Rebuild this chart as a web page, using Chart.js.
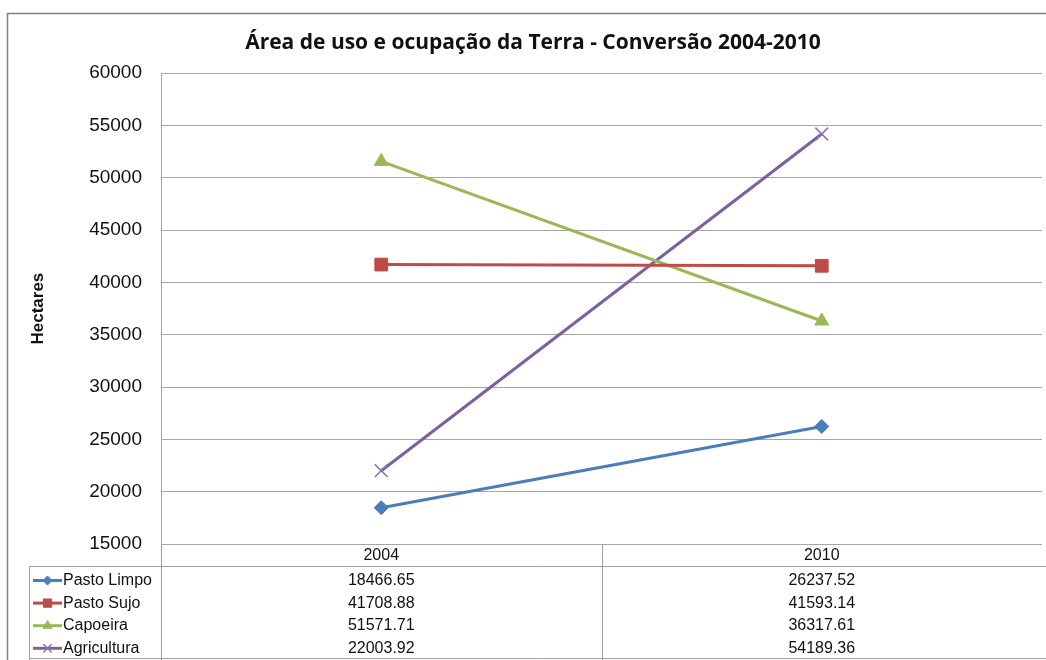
<!DOCTYPE html>
<html>
<head>
<meta charset="utf-8">
<script src="https://cdn.jsdelivr.net/npm/chart.js@4"></script>
<style>
  html, body { margin: 0; padding: 0; background: #fff; overflow: hidden; }
  #wrap { width: 1046px; height: 660px; }
</style>
</head>
<body>
<div id="wrap"><canvas id="chart" width="1046" height="660"></canvas></div>
<script>
const years = ["2004", "2010"];
const seriesNames = ["Pasto Limpo", "Pasto Sujo", "Capoeira", "Agricultura"];
const pastoLimpo = [18466.65, 26237.52];
const pastoSujo = [41708.88, 41593.14];
const capoeira = [51571.71, 36317.61];
const agricultura = [22003.92, 54189.36];
const yTicks = [15000, 20000, 25000, 30000, 35000, 40000, 45000, 50000, 55000, 60000];

const colors = ["#4A7EBB", "#BE4B48", "#98B954", "#7D60A0"];
const markers = ["rectRot", "rect", "triangle", "crossRot"];
const markerSizes = [7, 9, 8, 9];
const allValues = [pastoLimpo, pastoSujo, capoeira, agricultura];

const tableFont = "16px 'Liberation Sans', Arial, sans-serif";

// outer frame + data table under the plot (Excel style)
const tablePlugin = {
    id: "tablePlugin",
    beforeDraw(chart) {
        const ctx = chart.ctx;
        ctx.save();
        ctx.fillStyle = "#fff";
        ctx.fillRect(0, 0, chart.width, chart.height);
        ctx.strokeStyle = "#808080";
        ctx.lineWidth = 1.5;
        ctx.strokeRect(7.5, 13.5, chart.width + 10, chart.height + 10);
        ctx.restore();
    },
    afterDraw(chart) {
        const ctx = chart.ctx;
        const area = chart.chartArea;
        const x = chart.scales.x;
        const legendLeft = 29.5;
        const headTop = area.bottom;
        const headBottom = 566.5;
        const rowH = 22.6;
        const mid = Math.round((x.getPixelForValue(0) + x.getPixelForValue(1)) / 2) + 0.5;
        const left = Math.round(area.left) + 0.5;

        ctx.save();
        ctx.strokeStyle = "#a0a0a0";
        ctx.lineWidth = 1;
        ctx.beginPath();
        ctx.moveTo(left, headTop);
        ctx.lineTo(left, chart.height);
        ctx.moveTo(mid, headTop);
        ctx.lineTo(mid, chart.height);
        ctx.moveTo(legendLeft, headBottom);
        ctx.lineTo(chart.width, headBottom);
        ctx.moveTo(legendLeft, headBottom);
        ctx.lineTo(legendLeft, chart.height);
        ctx.moveTo(legendLeft, 658.5);
        ctx.lineTo(chart.width, 658.5);
        ctx.stroke();

        ctx.fillStyle = "#111";
        ctx.font = tableFont;
        ctx.textAlign = "center";
        ctx.textBaseline = "middle";
        years.forEach((y, i) => {
            ctx.fillText(y, x.getPixelForValue(i), 556);
        });

        seriesNames.forEach((name, r) => {
            const cy = 580.5 + r * rowH;
            // legend key
            ctx.strokeStyle = colors[r];
            ctx.lineWidth = 3;
            ctx.beginPath();
            ctx.moveTo(33, cy);
            ctx.lineTo(62, cy);
            ctx.stroke();
            ctx.fillStyle = colors[r];
            ctx.strokeStyle = markers[r] === "crossRot" ? "#8a74aa" : colors[r];
            ctx.lineWidth = markers[r] === "crossRot" ? 1.5 : 1;
            Chart.helpers.drawPoint(ctx, {
                pointStyle: markers[r],
                radius: markerSizes[r] * 0.65,
                borderWidth: ctx.lineWidth,
                rotation: 0
            }, 47.5, cy);

            ctx.fillStyle = "#111";
            ctx.font = tableFont;
            ctx.textAlign = "left";
            ctx.fillText(name, 63, cy);
            ctx.textAlign = "center";
            allValues[r].forEach((v, i) => {
                ctx.fillText(v.toFixed(2), x.getPixelForValue(i), cy);
            });
        });
        ctx.restore();
    }
};

new Chart(document.getElementById("chart"), {
    type: "line",
    data: {
        labels: years,
        datasets: seriesNames.map((name, i) => ({
            label: name,
            data: allValues[i],
            borderColor: colors[i],
            backgroundColor: colors[i],
            borderWidth: 3,
            pointStyle: markers[i],
            pointRadius: markerSizes[i],
            pointBorderWidth: markers[i] === "crossRot" ? 1.5 : 1,
            pointBorderColor: markers[i] === "crossRot" ? "#8a74aa" : colors[i],
            tension: 0
        }))
    },
    options: {
        responsive: false,
        animation: false,
        layout: { autoPadding: false, padding: { left: 24, right: 4, top: 0, bottom: 116 } },
        plugins: {
            legend: { display: false },
            tooltip: { enabled: false },
            title: {
                display: true,
                text: "Área de uso e ocupação da Terra - Conversão 2004-2010",
                color: "#111",
                font: { family: "'Open Sans', sans-serif", size: 21, weight: "bold" },
                padding: { top: 30, bottom: 18 }
            }
        },
        scales: {
            x: {
                type: "category",
                offset: true,
                display: false
            },
            y: {
                min: 15000,
                max: 60000,
                afterBuildTicks(scale) {
                    scale.ticks = yTicks.map(v => ({ value: v }));
                },
                afterFit(scale) {
                    scale.width = 137;
                },
                grid: { color: "#a6a6a6", drawTicks: false, lineWidth: 1 },
                border: { color: "#a6a6a6" },
                ticks: {
                    color: "#111",
                    padding: 19,
                    font: { family: "'Liberation Sans', Arial, sans-serif", size: 19 },
                    callback: v => String(v)
                },
                title: {
                    display: true,
                    text: "Hectares",
                    color: "#111",
                    font: { family: "'Liberation Sans', Arial, sans-serif", size: 17, weight: "bold" }
                }
            }
        }
    },
    plugins: [tablePlugin]
});
</script>
</body>
</html>
